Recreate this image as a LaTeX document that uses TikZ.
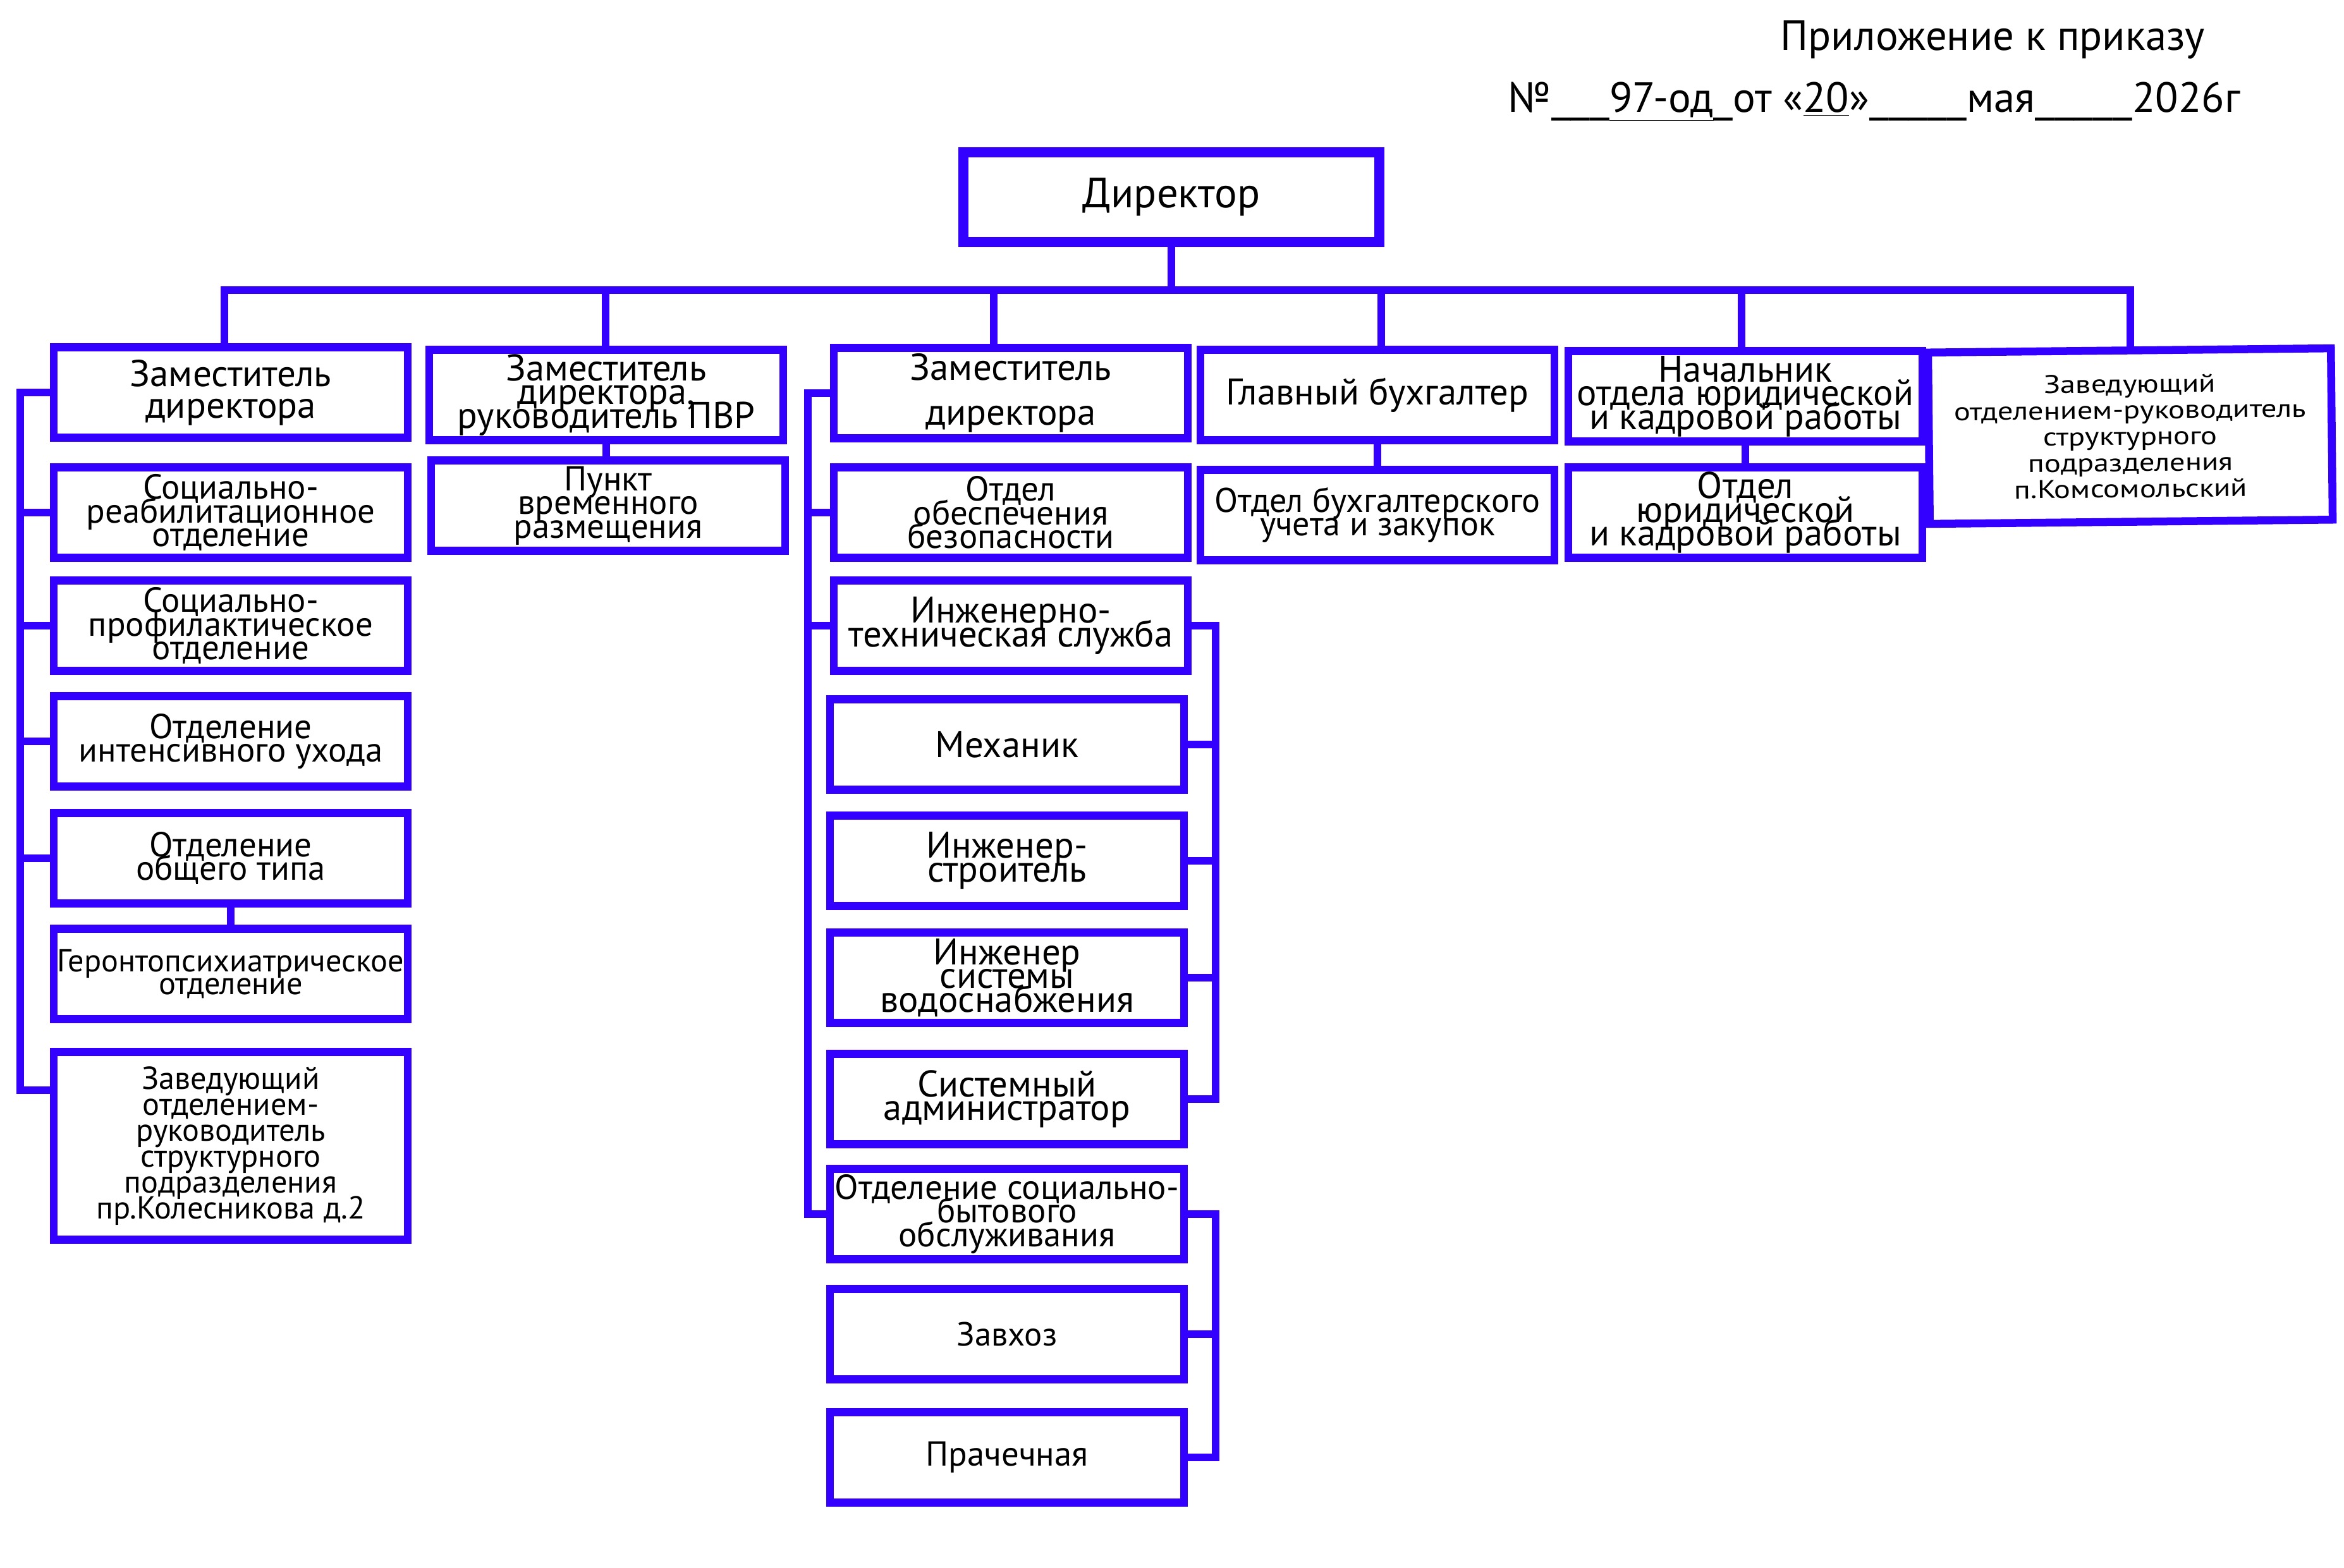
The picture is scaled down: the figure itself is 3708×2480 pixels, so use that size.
\documentclass[tikz,border=0pt]{standalone}
\usepackage{fontspec}
\setmainfont{PT Sans}
\newfontfamily\widefont[FakeStretch=1.2]{PT Sans}
\newfontfamily\usfont[FakeStretch=1.13]{PT Sans}
\usetikzlibrary{calc}
\definecolor{bl}{RGB}{51,0,255}
\newcommand{\fs}[2]{\fontsize{#1}{#2}\selectfont\lineskiplimit=-100pt\relax}

\begin{document}
\begin{tikzpicture}[x=0.01cm,y=-0.01cm,
  box/.style={draw=bl, line width=0.125cm, fill=white, minimum width=5.6cm,
    minimum height=1.43cm, inner sep=0pt, align=center, font=\fs{15.6pt}{10.7pt}},
  bigbox/.style={box, font=\fs{16.7pt}{10.7pt}},
  conn/.style={draw=bl, line width=0.125cm, line cap=rect},
  hdr/.style={anchor=base west, inner sep=0pt, font=\fs{19pt}{22pt}}]
\useasboundingbox (0,0) rectangle (3708,2480);

% header
\node[hdr] (h1) at (2816,79) {Приложение к приказу};
\node[hdr] (h2) at (2385,177) {№{\usfont\_\_\_}\underline{97-од}{\usfont\_}от «\underline{20}»{\usfont\_\_\_\_\_}мая{\usfont\_\_\_\_\_}2026г};

% director
\node[box, line width=0.16cm, minimum width=6.57cm, minimum height=1.42cm,
  font=\fs{19pt}{22pt}] (D) at (1853,312) {Директор};

% first row
\node[bigbox, font=\fs{16.8pt}{14.2pt}] (B1) at (365,621) {Заместитель\\директора};
\node[bigbox] (B2) at (959,625) {Заместитель\\директора,\\руководитель ПВР};
\node[bigbox, font=\fs{16.8pt}{20pt}] (B3) at (1599,622) {Заместитель\\директора};
\node[bigbox] (B4) at (2179,625) {Главный бухгалтер};
\node[bigbox] (B5) at (2761,627) {Начальник\\отдела юридической\\и кадровой работы};
\node[box, minimum width=6.37cm, minimum height=2.71cm, rotate=0.6,
  font=\widefont\fs{11.5pt}{11.8pt}] (B6) at (3370,690)
  {Заведующий\\отделением-руководитель\\структурного\\подразделения\\п.Комсомольский};

% left column
\node[box] (L1) at (365,811) {Социально-\\реабилитационное\\отделение};
\node[box] (L2) at (365,990) {Социально-\\профилактическое\\отделение};
\node[box] (L3) at (365,1173) {Отделение\\интенсивного ухода};
\node[box] (L4) at (365,1358) {Отделение\\общего типа};
\node[box, font=\fs{14.3pt}{10.3pt}] (L5) at (365,1541) {Геронтопсихиатрическое\\отделение};
\node[box, minimum height=2.97cm, font=\fs{14.3pt}{11.7pt}] (L6) at (365,1813)
  {Заведующий\\отделением-\\руководитель\\структурного\\подразделения\\пр.Колесникова д.2};

% second column
\node[box] (P1) at (962,800) {Пункт\\временного\\размещения};

% third column
\node[box] (C1) at (1599,811) {Отдел\\обеспечения\\безопасности};
\node[bigbox] (C2) at (1599,990) {Инженерно-\\техническая служба};
\node[bigbox] (C3) at (1593,1178) {Механик};
\node[bigbox] (C4) at (1593,1362) {Инженер-\\строитель};
\node[bigbox] (C5) at (1593,1547) {Инженер\\системы\\водоснабжения};
\node[bigbox] (C6) at (1593,1739) {Системный\\администратор};
\node[box] (C7) at (1593,1921) {Отделение социально-\\бытового\\обслуживания};
\node[box, font=\fs{15pt}{10.7pt}] (C8) at (1593,2111) {Завхоз};
\node[box] (C9) at (1593,2306) {Прачечная};

% fourth and fifth columns
\node[box, font=\fs{15.4pt}{10.7pt}] (A1) at (2179,815) {Отдел бухгалтерского\\учета и закупок};
\node[bigbox] (K1) at (2761,811) {Отдел\\юридической\\и кадровой работы};

% bus
\coordinate (busL) at (355,459);
\coordinate (busR) at (3370,459);
\draw[conn] (D.south) -- (D.south |- busL);
\draw[conn] (busL) -- (busR);
\foreach \x/\n in {355/B1, 958/B2, 1572/B3, 2185/B4, 2755/B5, 3370/B6}
  \draw[conn] (\x,459) -- (\x,0 |- \n.north);

% vertical links
\draw[conn] (B2.south) -- (B2.south |- P1.north);
\draw[conn] (B4.south) -- (B4.south |- A1.north);
\draw[conn] (B5.south) -- (B5.south |- K1.north);
\draw[conn] (L4.south) -- (L4.south |- L5.north);

% left bracket
\coordinate (lx) at (32,0);
\coordinate (L6t) at ($(L6.west)+(0,-88)$);
\draw[conn] (B1.west) -- (B1.west -| lx) -- (lx |- L6t) -- (L6t);
\foreach \n in {L1,L2,L3,L4} \draw[conn] (\n.west) -- (\n.west -| lx);

% third column left bracket
\coordinate (mx) at (1278,0);
\draw[conn] (B3.west) -- (B3.west -| mx) -- (mx |- C7.west) -- (C7.west);
\foreach \n in {C1,C2} \draw[conn] (\n.west) -- (\n.west -| mx);

% third column right brackets
\coordinate (rx) at (1923,0);
\draw[conn] (C2.east) -- (C2.east -| rx) -- (rx |- C6.east) -- (C6.east);
\foreach \n in {C3,C4,C5} \draw[conn] (\n.east) -- (\n.east -| rx);
\draw[conn] (C7.east) -- (C7.east -| rx) -- (rx |- C9.east) -- (C9.east);
\draw[conn] (C8.east) -- (C8.east -| rx);
\end{tikzpicture}
\end{document}
